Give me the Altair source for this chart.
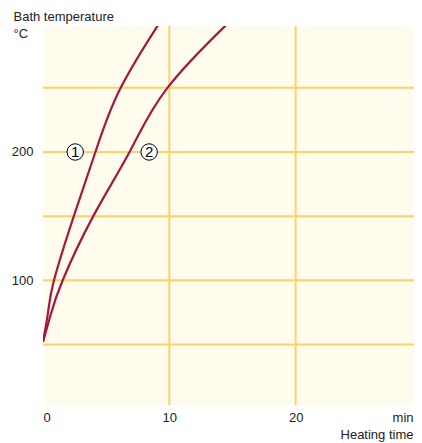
import altair as alt
import pandas as pd

# Curve values (minutes, °C)
time_1 = [0, 0.4, 0.87, 2.44, 4.15, 6.15, 9.05, 9.3]
temp_1 = [52, 75, 100, 150, 200, 250, 298, 302]
time_2 = [0, 0.6, 1.56, 3.98, 6.85, 9.85, 14.4, 14.8]
temp_2 = [52, 73, 100, 150, 200, 250, 298, 302]

x_grid = [10, 20]
y_grid = [50, 100, 150, 200, 250]
x_ticks = [0, 10, 20]
y_ticks = [100, 200]

marker_time = [2.55, 8.4]
marker_temp = [200, 200]
marker_text = ["1", "2"]

FONT = "Liberation Sans"
TXT = "#222222"
CURVE = "#a3183f"
GRID = "#ffd166"
BG = "#fffcee"

curves = pd.DataFrame({
    "time": time_1 + time_2,
    "temp": temp_1 + temp_2,
    "curve": ["1"] * len(time_1) + ["2"] * len(time_2),
})
vgrid = pd.DataFrame({"time": x_grid})
hgrid = pd.DataFrame({"temp": y_grid})
markers = pd.DataFrame({"time": marker_time, "temp": marker_temp, "label": marker_text})

xscale = alt.Scale(domain=[0, 29.37], nice=False, zero=False)
yscale = alt.Scale(domain=[2.8, 298.2], nice=False, zero=False)

x_axis = alt.Axis(
    values=x_ticks, grid=False, domain=False, ticks=False, tickSize=0,
    labelPadding=16, labelBaseline="alphabetic", labelFont=FONT, labelFontSize=13,
    labelColor=TXT,
    title=["min", "Heating time"], titleFont=FONT, titleFontSize=13,
    titleFontWeight="normal", titleColor=TXT, titleAlign="right",
    titleX=370, titleY=16, titleBaseline="alphabetic", titleLineHeight=17,
)
y_axis = alt.Axis(
    values=y_ticks, grid=False, domain=False, ticks=False, tickSize=0,
    labelPadding=10, labelFont=FONT, labelFontSize=13, labelColor=TXT,
    title=["Bath temperature", "°C"], titleFont=FONT, titleFontSize=13,
    titleFontWeight="normal", titleColor=TXT, titleAngle=0, titleAlign="left",
    titleX=-30, titleY=-6, titleBaseline="alphabetic", titleLineHeight=17,
)

X = alt.X("time:Q", scale=xscale, axis=x_axis)
Y = alt.Y("temp:Q", scale=yscale, axis=y_axis)

vrules = alt.Chart(vgrid).mark_rule(color=GRID, strokeWidth=2).encode(x=X)
hrules = alt.Chart(hgrid).mark_rule(color=GRID, strokeWidth=2).encode(y=Y)

lines = alt.Chart(curves).mark_line(
    color=CURVE, strokeWidth=2.2, interpolate="natural", clip=True
).encode(x=X, y=Y, detail="curve:N")

circles = alt.Chart(markers).mark_point(
    shape="circle", size=270, filled=True, fill="white", stroke="black",
    strokeWidth=1, opacity=1
).encode(x=X, y=Y)

labels = alt.Chart(markers).mark_text(
    font=FONT, fontSize=15, color="black", align="center", baseline="middle", dy=0.5
).encode(x=X, y=Y, text="label:N")

chart = alt.layer(vrules, hrules, lines, circles, labels).properties(
    width=371, height=379,
    autosize=alt.AutoSizeParams(type="none"),
    padding={"left": 35, "top": 18, "right": 0, "bottom": 40},
).configure_view(fill=BG, strokeOpacity=0)

chart.save("out.html", embed_options={"renderer": "svg", "actions": False})
